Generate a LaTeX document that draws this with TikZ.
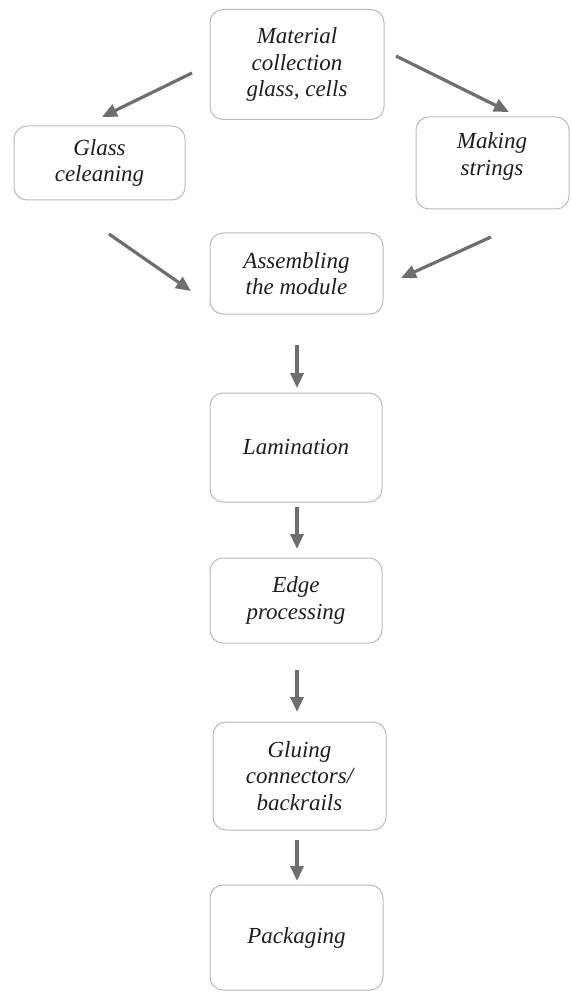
\documentclass[tikz,border=0pt]{standalone}
\usepackage{fontspec}
\setmainfont{Liberation Serif}
\usetikzlibrary{arrows.meta}
\definecolor{boxline}{HTML}{BBBBBB}
\definecolor{arrowc}{HTML}{6E6E6E}
\definecolor{txt}{HTML}{1E1E1E}
\tikzset{
  stepbox/.style={draw=boxline, line width=1pt, rounded corners=13pt, fill=white,
    align=center, text=txt, inner sep=0pt,
    font=\fontsize{23}{26.5}\selectfont\itshape},
  txtonly/.style={align=center, text=txt, inner sep=0pt,
    font=\fontsize{23}{26.5}\selectfont\itshape},
  flow/.style={draw=arrowc, line width=3.2pt, -{Triangle[length=15pt,width=13pt]}}
}
\begin{document}
\begin{tikzpicture}[x=1pt,y=-1pt]
\useasboundingbox (0,0) rectangle (571,992);
\node[stepbox, minimum width=174pt, minimum height=110pt] (mat) at (297,64.5) {Material\\collection\\glass, cells};
\node[stepbox, minimum width=171pt, minimum height=74pt] (glass) at (99.5,163) {Glass\\celeaning};
\node[stepbox, minimum width=153pt, minimum height=92pt] (making) at (492.5,163) {};
\node[txtonly] (makingtxt) at (492,156.5) {Making\\strings};
\node[stepbox, minimum width=173pt, minimum height=81pt] (assem) at (296.5,273.5) {Assembling\\the module};
\node[stepbox, minimum width=172pt, minimum height=109pt] (lam) at (296,447.5) {Lamination};
\node[stepbox, minimum width=172pt, minimum height=85pt] (edge) at (296,600.5) {Edge\\processing};
\node[stepbox, minimum width=173pt, minimum height=108pt] (glue) at (299.5,776) {Gluing\\connectors/\\backrails};
\node[stepbox, minimum width=173pt, minimum height=105pt] (pack) at (296.5,937.5) {Packaging};

\coordinate (a1s) at (192,73);  \coordinate (a1e) at (102,117);
\coordinate (a2s) at (396,56);  \coordinate (a2e) at (509,112);
\coordinate (a3s) at (109,234); \coordinate (a3e) at (191,291);
\coordinate (a4s) at (491,237); \coordinate (a4e) at (401,278);
\coordinate (v1s) at (297,345); \coordinate (v1e) at (297,388);
\coordinate (v2s) at (297,507); \coordinate (v2e) at (297,549);
\coordinate (v3s) at (297,670); \coordinate (v3e) at (297,712);
\coordinate (v4s) at (297,840); \coordinate (v4e) at (297,881);

\draw[flow] (a1s) -- (a1e);
\draw[flow] (a2s) -- (a2e);
\draw[flow] (a3s) -- (a3e);
\draw[flow] (a4s) -- (a4e);
\draw[flow] (v1s) -- (v1e);
\draw[flow] (v2s) -- (v2e);
\draw[flow] (v3s) -- (v3e);
\draw[flow] (v4s) -- (v4e);
\end{tikzpicture}
\end{document}
